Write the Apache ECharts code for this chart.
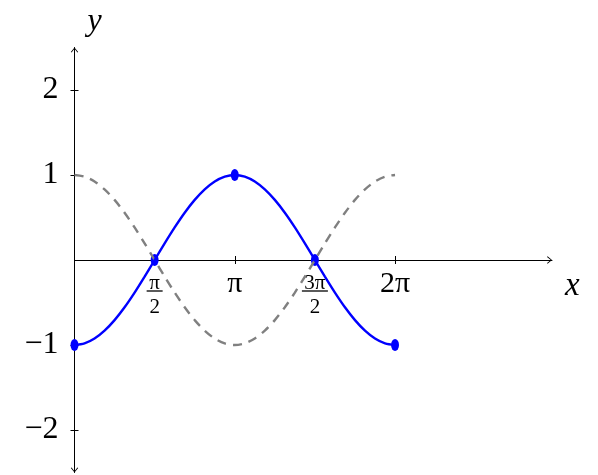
<!DOCTYPE html>
<html><head><meta charset="utf-8">
<script src="https://cdn.jsdelivr.net/npm/echarts@6/dist/echarts.min.js"></script>
<style>html,body{margin:0;padding:0;background:#fff}#c{width:598px;height:475px}</style>
</head><body><div id="c"></div>
<script>
// sample positions (radians, steps of pi/16)
const xValues = [0, 0.1963, 0.3927, 0.5890, 0.7854, 0.9817, 1.1781, 1.3744, 1.5708, 1.7671, 1.9635, 2.1598, 2.3562, 2.5525, 2.7489, 2.9452, 3.1416,
  3.3379, 3.5343, 3.7306, 3.9270, 4.1233, 4.3197, 4.5160, 4.7124, 4.9087, 5.1051, 5.3014, 5.4978, 5.6941, 5.8905, 6.0868, 6.2832];
// blue solid curve values
const blueValues = [-1, -0.981, -0.924, -0.831, -0.707, -0.556, -0.383, -0.195, 0, 0.195, 0.383, 0.556, 0.707, 0.831, 0.924, 0.981, 1,
  0.981, 0.924, 0.831, 0.707, 0.556, 0.383, 0.195, 0, -0.195, -0.383, -0.556, -0.707, -0.831, -0.924, -0.981, -1];
// gray dashed curve values
const grayValues = [1, 0.981, 0.924, 0.831, 0.707, 0.556, 0.383, 0.195, 0, -0.195, -0.383, -0.556, -0.707, -0.831, -0.924, -0.981, -1,
  -0.981, -0.924, -0.831, -0.707, -0.556, -0.383, -0.195, 0, 0.195, 0.383, 0.556, 0.707, 0.831, 0.924, 0.981, 1];
// marked points
const markX = [0, 1.5708, 3.1416, 4.7124, 6.2832];
const markY = [-1, 0, 1, 0, -1];
// ticks
const xTickValues = [1.5708, 3.1416, 4.7124, 6.2832];
const xTickLabels = ['{n|π}\n{bar|}\n{d|2}', '{m|π}', '{n|3π}\n{bar2|}\n{d|2}', '{m|2π}'];
const yTickValues = [-2, -1, 1, 2];
const yTickLabels = ['−2', '−1', '1', '2'];

const zip = (a, b) => a.map((v, i) => [v, b[i]]);
const arrow = 'path://M0,6 L5,0 L10,6 L9,6.8 L5,1.7 L1,6.8 Z';
const serif = 'Liberation Serif';
const X_MAX = 9.36;

const chart = echarts.init(document.getElementById('c'));
chart.setOption({
  animation: false,
  grid: [
    {left: 74.5, right: 46, top: 47.5, height: 425, outerBoundsMode: 'none', containLabel: false},
    {left: 74.5, right: 46, top: 47.5, height: 212.5, outerBoundsMode: 'none', containLabel: false}
  ],
  xAxis: [{
    gridIndex: 0, type: 'value', min: 0, max: X_MAX, show: false
  }, {
    gridIndex: 1, type: 'value', min: 0, max: X_MAX, position: 'bottom',
    axisLine: {show: true, onZero: false, lineStyle: {color: '#000', width: 1}, symbol: ['none', arrow], symbolSize: [9, 5], symbolOffset: [2.5, -2.5]},
    axisTick: {show: true, length: 4, lineStyle: {color: '#000'}, customValues: xTickValues},
    axisLabel: {show: true, customValues: xTickValues, margin: 16, verticalAlign: 'top',
      formatter: (v) => { const i = xTickValues.findIndex(t => Math.abs(t - v) < 1e-3); return i >= 0 ? xTickLabels[i] : ''; },
      rich: {
        m: {fontFamily: serif, fontSize: 30, color: '#000', lineHeight: 16},
        n: {fontFamily: serif, fontSize: 21, color: '#000', lineHeight: 14, align: 'center'},
        d: {fontFamily: serif, fontSize: 21, color: '#000', lineHeight: 30, align: 'center'},
        bar: {width: 16, height: 1.3, backgroundColor: '#000', lineHeight: 2, align: 'center'},
        bar2: {width: 26, height: 1.3, backgroundColor: '#000', lineHeight: 2, align: 'center'}
      }},
    splitLine: {show: false},
    name: 'x', nameLocation: 'end', nameGap: 13,
    nameTextStyle: {fontFamily: serif, fontStyle: 'italic', fontSize: 33, color: '#000', align: 'left', verticalAlign: 'top', padding: [10, 0, 0, 0]}
  }, {
    gridIndex: 1, type: 'value', min: 0, max: X_MAX, position: 'bottom',
    axisLine: {show: false, onZero: false},
    axisTick: {show: true, inside: true, length: 4, lineStyle: {color: '#000'}, customValues: xTickValues},
    axisLabel: {show: false}, splitLine: {show: false}
  }],
  yAxis: [{
    gridIndex: 0, type: 'value', min: -2.5, max: 2.5, position: 'left',
    axisLine: {show: true, onZero: false, lineStyle: {color: '#000', width: 1}, symbol: [arrow, arrow], symbolSize: [9, 5], symbolOffset: [2.5, -2.5]},
    axisTick: {show: true, length: 4, lineStyle: {color: '#000'}, customValues: yTickValues},
    axisLabel: {show: true, customValues: yTickValues, margin: 16,
      formatter: (v) => { const i = yTickValues.indexOf(v); return i >= 0 ? yTickLabels[i] : ''; },
      fontFamily: serif, fontSize: 32, color: '#000'},
    splitLine: {show: false},
    name: 'y', nameLocation: 'end', nameGap: 10,
    nameTextStyle: {fontFamily: serif, fontStyle: 'italic', fontSize: 32, color: '#000', align: 'left', padding: [0, 0, 0, 13]}
  }, {
    gridIndex: 1, type: 'value', min: 0, max: 1, show: false
  }, {
    gridIndex: 0, type: 'value', min: -2.5, max: 2.5, position: 'left',
    axisLine: {show: false, onZero: false},
    axisTick: {show: true, inside: true, length: 4, lineStyle: {color: '#000'}, customValues: yTickValues},
    axisLabel: {show: false}, splitLine: {show: false}
  }],
  series: [{
    type: 'line', xAxisIndex: 0, yAxisIndex: 0, data: zip(xValues, grayValues), smooth: 0.3, showSymbol: false,
    lineStyle: {color: '#808080', width: 2.4, type: [9, 7]}, silent: true
  }, {
    type: 'line', xAxisIndex: 0, yAxisIndex: 0, data: zip(xValues, blueValues), smooth: 0.3, showSymbol: false,
    lineStyle: {color: '#0000ff', width: 2.4}, silent: true
  }, {
    type: 'scatter', xAxisIndex: 0, yAxisIndex: 0, data: zip(markX, markY), symbol: 'circle', symbolSize: [8, 12],
    itemStyle: {color: '#0000ff', opacity: 1}, silent: true
  }]
});
</script></body></html>
